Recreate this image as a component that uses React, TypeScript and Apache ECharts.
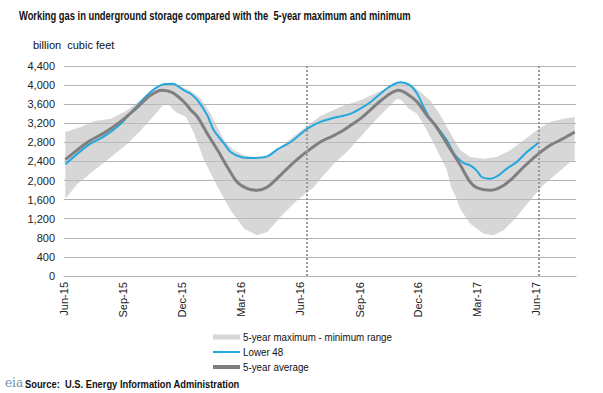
import React, { useEffect, useRef } from "react";
import * as echarts from "echarts";

// x values are days after 1 June 2015
const lower48: [number, number][] = [
  [2, 2340], [37, 2738], [62, 2926], [88, 3192], [114, 3576], [134, 3855], [152, 4009], [168, 4030],
  [186, 3890], [196, 3820], [207, 3681], [222, 3366], [232, 3052], [248, 2773], [258, 2598], [274, 2493],
  [292, 2472], [315, 2507], [330, 2647], [351, 2808], [377, 3087], [397, 3230], [413, 3296], [428, 3345],
  [444, 3401], [459, 3506], [475, 3646], [490, 3820], [505, 3974], [521, 4058], [536, 3995], [547, 3820],
  [557, 3541], [567, 3296], [578, 3122], [593, 2842], [606, 2528], [619, 2368], [629, 2319], [639, 2214],
  [647, 2074], [660, 2039], [673, 2109], [686, 2249], [701, 2389], [717, 2598], [730, 2738], [736, 2808],
];

const avg5: [number, number][] = [
  [2, 2437], [37, 2808], [62, 2996], [88, 3241], [114, 3541], [134, 3785], [152, 3890], [168, 3841],
  [186, 3646], [196, 3485], [207, 3331], [222, 2982], [238, 2633], [253, 2284], [268, 1970], [284, 1830],
  [299, 1795], [315, 1865], [335, 2109], [351, 2319], [372, 2563], [397, 2808], [413, 2912], [428, 3017],
  [444, 3157], [459, 3296], [475, 3485], [490, 3667], [505, 3820], [518, 3890], [531, 3820], [547, 3646],
  [562, 3366], [575, 3157], [590, 2842], [606, 2493], [614, 2319], [629, 1970], [639, 1851], [660, 1795],
  [675, 1851], [691, 2004], [712, 2284], [732, 2528], [753, 2738], [773, 2877], [791, 3017],
];

const max5: [number, number][] = [
  [2, 3017], [26, 3122], [47, 3248], [73, 3296], [98, 3471], [124, 3750], [150, 4015], [170, 4040],
  [186, 3940], [196, 3880], [212, 3716], [227, 3401], [248, 2842], [263, 2633], [279, 2528], [294, 2493],
  [315, 2528], [335, 2703], [361, 2982], [397, 3350], [428, 3541], [459, 3681], [490, 3876], [511, 4016],
  [521, 4065], [536, 4030], [552, 3855], [567, 3681], [583, 3366], [598, 3000], [614, 2633], [629, 2493],
  [650, 2458], [670, 2493], [691, 2633], [712, 2842], [732, 3052], [753, 3227], [773, 3296], [791, 3331],
];

const min5: [number, number][] = [
  [2, 1620], [21, 1935], [47, 2214], [73, 2493], [98, 2773], [119, 3052], [140, 3366], [155, 3611],
  [163, 3576], [173, 3436], [189, 3331], [201, 3000], [217, 2423], [238, 1865], [258, 1376], [279, 992],
  [299, 852], [315, 922], [335, 1236], [361, 1585], [387, 1865], [397, 2030], [418, 2354], [438, 2598],
  [459, 2912], [480, 3227], [500, 3506], [516, 3716], [523, 3681], [534, 3506], [547, 3401], [562, 3052],
  [578, 2633], [593, 2214], [600, 1850], [606, 1680], [614, 1400], [629, 1096], [650, 887], [665, 852],
  [681, 957], [701, 1236], [722, 1585], [742, 1900], [763, 2144], [784, 2389], [791, 2423],
];

const xTickLabels = ["Jun-15", "Sep-15", "Dec-15", "Mar-16", "Jun-16", "Sep-16", "Dec-16", "Mar-17", "Jun-17"];
const markerDays = [376, 736];
const axisEndDay = 793;
const yMax = 4400;
const yStep = 400;

const MONTHS = ["Jan", "Feb", "Mar", "Apr", "May", "Jun", "Jul", "Aug", "Sep", "Oct", "Nov", "Dec"];
const BASE = Date.UTC(2015, 5, 1);
const DAY = 86400000;
const labelToDay = (s: string) => {
  const [m, y] = s.split("-");
  return Math.round((Date.UTC(2000 + Number(y), MONTHS.indexOf(m), 1) - BASE) / DAY);
};
const tickDays = xTickLabels.map(labelToDay);

const FONT = '"Liberation Sans", Arial, sans-serif';
const BLUE = "#22a7df";
const GRAY = "#7f7f7f";
const BAND = "rgba(190,190,190,0.62)";

const txt = (x: number, y: number, text: string, font: string, sx: number, fill = "#111") => ({
  type: "text",
  x,
  y,
  scaleX: sx,
  style: { x: 0, y: 0, text, font, fill, verticalAlign: "middle" },
});

export default function App() {
  const ref = useRef<HTMLDivElement>(null);
  useEffect(() => {
    if (!ref.current) return;
    const chart = echarts.init(ref.current, null, { renderer: "svg" });
    const option: any = {
      animation: false,
      backgroundColor: "#fff",
      textStyle: { fontFamily: FONT },
      grid: { left: 64, right: 27, top: 66, bottom: 117 },
      xAxis: {
        type: "value",
        min: 0,
        max: axisEndDay,
        axisLine: { show: true, lineStyle: { color: "#b3b3b3" } },
        axisTick: { show: false },
        splitLine: { show: false },
        axisLabel: {
          customValues: tickDays,
          rotate: 90,
          margin: 6,
          fontSize: 11,
          color: "#222",
          fontFamily: FONT,
          formatter: (v: number) => {
            const i = tickDays.indexOf(Math.round(v));
            return i >= 0 ? xTickLabels[i] : "";
          },
        },
      },
      yAxis: {
        type: "value",
        min: 0,
        max: yMax,
        interval: yStep,
        axisLine: { show: false },
        axisTick: { show: false },
        splitLine: { lineStyle: { color: "#b3b3b3", width: 1 } },
        axisLabel: {
          margin: 9,
          fontSize: 11,
          color: "#222",
          fontFamily: FONT,
          formatter: (v: number) => v.toLocaleString("en-US"),
        },
      },
      series: [
        {
          type: "custom",
          name: "5-year maximum - minimum range",
          silent: true,
          data: [[0, 0]],
          renderItem: (_p: any, api: any) => {
            const pts: number[][] = [];
            max5.forEach(([d, v]) => pts.push(api.coord([d, v])));
            for (let i = min5.length - 1; i >= 0; i--) pts.push(api.coord([min5[i][0], min5[i][1]]));
            return { type: "polygon", shape: { points: pts }, style: { fill: BAND, stroke: "none" } };
          },
          z: 1,
        },
        {
          type: "line",
          name: "Lower 48",
          data: lower48,
          showSymbol: false,
          smooth: 0.3,
          lineStyle: { color: BLUE, width: 2 },
          itemStyle: { color: BLUE },
          z: 3,
          markLine: {
            silent: true,
            symbol: ["none", "none"],
            label: { show: false },
            lineStyle: { color: "#9a9a9a", type: "dotted", width: 2 },
            data: markerDays.map((d) => ({ xAxis: d })),
          },
        },
        {
          type: "line",
          name: "5-year average",
          data: avg5,
          showSymbol: false,
          smooth: 0.3,
          lineStyle: { color: GRAY, width: 3 },
          itemStyle: { color: GRAY },
          z: 4,
        },
      ],
      graphic: [
        txt(19, 16, "Working gas in underground storage compared with the  5-year maximum and minimum", `bold 12px ${FONT}`, 0.78),
        txt(33, 45, "billion  cubic feet", `11px ${FONT}`, 1),
        { type: "line", shape: { x1: 213, y1: 337, x2: 240, y2: 337 }, style: { stroke: "#d6d6d6", lineWidth: 5 } },
        txt(243, 337, "5-year maximum - minimum range", `11px ${FONT}`, 0.89),
        { type: "line", shape: { x1: 213, y1: 352, x2: 240, y2: 352 }, style: { stroke: BLUE, lineWidth: 2 } },
        txt(243, 352, "Lower 48", `11px ${FONT}`, 0.89),
        { type: "line", shape: { x1: 213, y1: 367, x2: 240, y2: 367 }, style: { stroke: GRAY, lineWidth: 4 } },
        txt(243, 367, "5-year average", `11px ${FONT}`, 0.89),
        txt(5, 383, "eia", `12px "DejaVu Serif", serif`, 1, "#6f93b5"),
        txt(25, 384, "Source:  U.S. Energy Information Administration", `bold 11px ${FONT}`, 0.85),
      ],
    };
    chart.setOption(option);
    return () => chart.dispose();
  }, []);
  return (
    <div
      ref={ref}
      style={{ position: "fixed", left: 0, top: 0, width: 603, height: 393 }}
    />
  );
}
